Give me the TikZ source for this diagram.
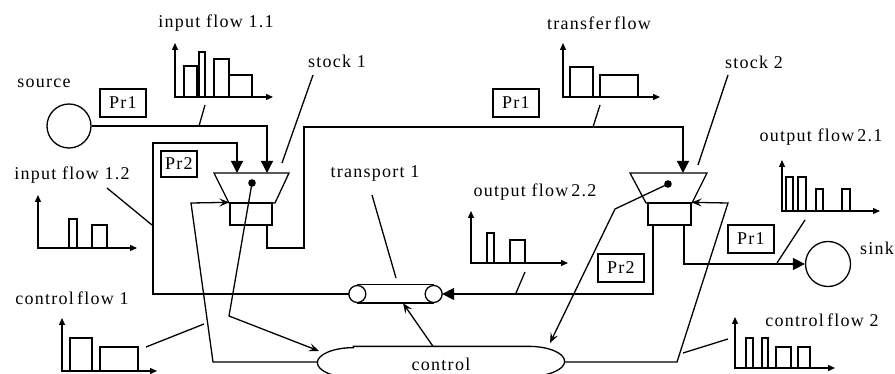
\documentclass[tikz,border=0pt]{standalone}
\usepackage{fontspec}
\setmainfont{Liberation Serif}[LetterSpace=7]
\usetikzlibrary{arrows.meta}

% small bar chart: axis x, axis top, base line, axis end, bars {x1/x2/top}
\newcommand\barchart[5]{%
  \draw[axisline] (#1,#2) |- (#4,#3);
  \foreach \bx/\by/\bt in {#5} {\draw (\bx,#3) rectangle (\by,\bt);}
}

\begin{document}
\begin{tikzpicture}[x=1pt,y=-1pt,line width=1.3pt,
  font=\fontsize{18}{20}\selectfont,
  lbl/.style={inner sep=0pt},
  flow/.style={-{Triangle[length=12pt,width=12pt]}},
  info/.style={-{Stealth[length=10pt,width=8pt,inset=4pt]}},
  axisline/.style={{Triangle[length=7pt,width=6pt]}-{Triangle[length=7pt,width=6pt]}},
  lead/.style={line width=1.3pt},
  prbox/.style={draw,inner sep=0pt,minimum width=46pt,minimum height=28pt},
  boxnode/.style={draw,inner sep=0pt,minimum height=22pt}]

\useasboundingbox (0,0) rectangle (895,374);
\fill[white] (0,0) rectangle (895,374);

% ---- labels ----
\node[lbl] (lin11) at (216,23) {input flow 1.1};
\node[lbl] (ltrf) at (599,23) {transfer\hspace{3pt}flow};
\node[lbl] (lsrc) at (44,83) {source};
\node[lbl] (lst1) at (337,61) {stock 1};
\node[lbl] (lst2) at (754,62) {stock 2};
\node[lbl] (lout21) at (821,137) {output flow\hspace{3pt}2.1};
\node[lbl] (lin12) at (72,175) {input flow 1.2};
\node[lbl] (ltr) at (375,173) {transport 1};
\node[lbl] (lout22) at (535,192) {output flow\hspace{3pt}2.2};
\node[lbl] (lsnk) at (877,248) {sink};
\node[lbl] (lcf1) at (72,298) {control\hspace{3pt}flow 1};
\node[lbl] (lcf2) at (822,320) {control\hspace{3pt}flow 2};

% ---- process boxes ----
\node[prbox] (pr1a) at (123,103) {Pr1};
\node[prbox,minimum width=36pt,minimum height=26pt] (pr2a) at (179,164) {Pr2};
\node[prbox] (pr1b) at (516,103) {Pr1};
\node[prbox] (pr1c) at (751,239) {Pr1};
\node[prbox] (pr2b) at (621,268) {Pr2};

% ---- source and sink ----
\node[draw,circle,inner sep=0pt,minimum size=44pt] (src) at (69,126) {};
\node[draw,circle,inner sep=0pt,minimum size=45pt] (snk) at (828,264) {};

% ---- stocks ----
\draw (214,173) -- (289,173) -- (275,203) -- (229,203) -- cycle;
\node[boxnode,minimum width=42pt] (b1) at (251,214) {};
\draw (630,173) -- (707,173) -- (692,203) -- (646,203) -- cycle;
\node[boxnode,minimum width=43pt] (b2) at (669.5,214) {};
\coordinate (s1a) at (237,173);
\coordinate (s1b) at (267,173);
\coordinate (s2a) at (683,173);
\coordinate (d1) at (252,183);
\coordinate (d2) at (668,184);
\fill (d1) circle[radius=3.8];
\fill (d2) circle[radius=3.8];

% ---- transport ----
\node[inner sep=0pt,minimum width=92pt,minimum height=17pt] (tr) at (395.5,294) {};
\draw ([xshift=8.5]tr.north west) -- ([xshift=-8.5]tr.north east)
      ([xshift=8.5]tr.south west) -- ([xshift=-8.5]tr.south east);
\draw[fill=white] ([xshift=8.5]tr.west) circle[radius=8.5];
\draw[fill=white] ([xshift=-8.5]tr.east) circle[radius=8.5];

% ---- control ----
\node[inner sep=0pt,minimum width=246pt,minimum height=30pt] (ctl) at (441,362) {};
\node[lbl] (ctltxt) at (441,364) {control};
\draw ([xshift=36]ctl.north west) -- ([xshift=-36]ctl.north east)
  arc[start angle=-90,end angle=90,x radius=36,y radius=15]
  -- ([xshift=36]ctl.south west)
  arc[start angle=90,end angle=270,x radius=36,y radius=15] -- cycle;

% ---- material flows ----
\coordinate (k1) at (153,143);
\coordinate (k2) at (304,248);
\coordinate (k3) at (304,127);
\draw[flow] (src.east) -| (s1b);
\draw[flow] (tr.west) -| (k1) -| (s1a);
\draw[flow] ([xshift=16]b1.south) |- (k2) -- (k3) -| (s2a);
\draw[flow] ([xshift=-16.5]b2.south) |- (tr.east);
\draw[flow] ([xshift=14.5]b2.south) |- (snk.west);

% ---- control flows ----
\draw[info] (d1) -- (229,316) -- (319,351);
\draw[info] (d2) -- (615,209) -- (550,343);
\draw[info] ([xshift=-8]ctl.north) -- ([xshift=7.5]tr.south);
\draw[info] (ctl.west) -- (213,362) -- (191,203) -- (b1.north west);
\draw[info] (ctl.east) -- (677,362) -- (728,203) -- (b2.north east);

% ---- leader lines ----
\draw[lead] (282,163) -- (313,75);
\draw[lead] (698,165) -- (728,75);
\draw[lead] (199,126) -- (205,105);
\draw[lead] (593,127) -- (600,105);
\draw[lead] (107,188) -- (152,225);
\draw[lead] (516,293) -- (525,272);
\draw[lead] (777,263) -- (805,220);
\draw[lead] (372,195) -- (396,278);
\draw[lead] (146,347) -- (204,324);
\draw[lead] (683,353) -- (728,339);

% ---- flow charts ----
\barchart{175}{43}{97}{273}{184/197/66, 199/205/52, 214/229/59, 229/252/75}
\barchart{563}{43}{97}{660}{570/593/67, 600/638/75}
\barchart{38}{195}{248}{137}{69/77/219, 92/107/225}
\barchart{471}{211}{263}{568}{487/494/233, 510/525/240}
\barchart{782}{160}{211}{880}{786/793/177, 798/806/177, 816/823/189, 842/850/189}
\barchart{62}{318}{371}{157}{70/92/338, 100/138/347}
\barchart{735}{317}{368}{835}{746/753/338, 762/768/338, 776/791/347, 798/810/347}

\end{tikzpicture}
\end{document}
